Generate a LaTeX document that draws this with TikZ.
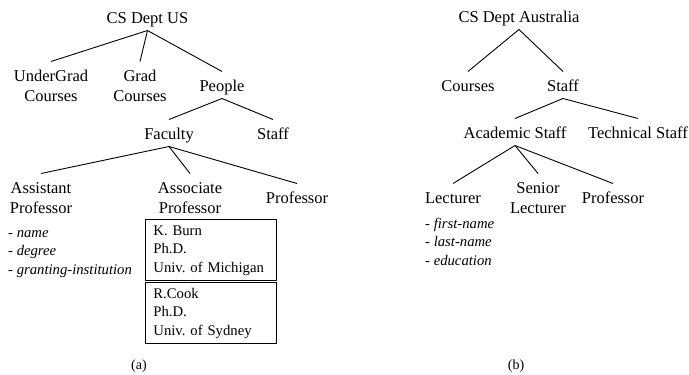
\documentclass[tikz,border=0pt]{standalone}
\usepackage{fontspec}
\setmainfont{Liberation Serif}
\newcommand\bigfnt{\fontsize{16.5}{20}\selectfont}
\newcommand\smallfnt{\fontsize{14.7}{18.5}\selectfont}
\frenchspacing
\begin{document}
\frenchspacing
\begin{tikzpicture}[x=1pt,y=-1pt,
  tn/.style={font=\bigfnt, inner sep=0pt, outer sep=0pt, align=center},
  attr/.style={font=\smallfnt, inner sep=0pt, align=left, anchor=north west},
  recbox/.style={draw, line width=0.8pt, font=\smallfnt, align=left, text width=115pt,
    inner xsep=8pt, inner ysep=2.75pt, anchor=north west},
  edge/.style={line width=0.9pt},
  capt/.style={font=\fontsize{14}{17}\selectfont, inner sep=0pt}]
\useasboundingbox (0,0) rectangle (689,375);

% ---- (a) US ----
\node[tn] (usroot) at (147.5,19.5) {\strut CS Dept US};
\node[tn] (ugc) at (51,87.5) {\strut UnderGrad\\\strut Courses};
\node[tn] (gc) at (140,87.5) {\strut Grad\\\strut Courses};
\node[tn] (people) at (222,87.5) {\strut People};
\node[tn] (faculty) at (169,135.5) {\strut Faculty};
\node[tn] (staffa) at (273,135.5) {\strut Staff};
\node[tn] (asst) at (41,199.5) {\strut Assistant\\\strut Professor};
\node[tn] (assoc) at (190,199.5) {\strut Associate\\\strut Professor};
\node[tn] (profa) at (297,199.5) {\strut Professor};

\node[attr] (attra) at (8,223.9) {\strut- \textit{name}\\\strut- \textit{degree}\\\strut- \textit{granting-institution}};

\node[recbox] (burn) at (145,219) {\strut K. Burn\\\strut Ph.D.\\\strut Univ. of Michigan};
\node[recbox] (cook) at (145,282) {\strut R.Cook\\\strut Ph.D.\\\strut Univ. of Sydney};

\draw[edge] ([yshift=-1pt]usroot.south) -- ([yshift=6pt]ugc.north);
\draw[edge] ([yshift=-1pt]usroot.south) -- ([yshift=6pt]gc.north);
\draw[edge] ([yshift=-1pt]usroot.south) -- ([yshift=6pt]people.north);
\draw[edge] ([yshift=-1pt]people.south) -- ([yshift=6pt]faculty.north);
\draw[edge] ([yshift=-1pt]people.south) -- ([yshift=6pt]staffa.north);
\draw[edge] ([yshift=-1pt]faculty.south) -- ([yshift=6pt]asst.north);
\draw[edge] ([yshift=-1pt]faculty.south) -- ([yshift=6pt]assoc.north);
\draw[edge] ([yshift=-1pt]faculty.south) -- ([yshift=6pt]profa.north);

\node[capt] (capa) at (139,366) {(a)};

% ---- (b) Australia ----
\node[tn] (auroot) at (519,18.5) {\strut CS Dept Australia};
\node[tn] (courses) at (468,87.5) {\strut Courses};
\node[tn] (staffb) at (563,87.5) {\strut Staff};
\node[tn] (academic) at (515,134.5) {\strut Academic Staff};
\node[tn] (technical) at (638,134.5) {\strut Technical Staff};
\node[tn] (lecturer) at (453,199.5) {\strut Lecturer};
\node[tn] (senior) at (538,199.5) {\strut Senior\\\strut Lecturer};
\node[tn] (profb) at (613,199.5) {\strut Professor};

\node[attr] (attrb) at (425,214.9) {\strut- \textit{first-name}\\\strut- \textit{last-name}\\\strut- \textit{education}};

\draw[edge] ([yshift=-1pt]auroot.south) -- ([yshift=6pt]courses.north);
\draw[edge] ([yshift=-1pt]auroot.south) -- ([yshift=6pt]staffb.north);
\draw[edge] ([yshift=-1pt]staffb.south) -- ([yshift=6pt]academic.north);
\draw[edge] ([yshift=-1pt]staffb.south) -- ([yshift=6pt]technical.north);
\draw[edge] ([yshift=-1pt]academic.south) -- ([yshift=6pt]lecturer.north);
\draw[edge] ([yshift=-1pt]academic.south) -- ([yshift=6pt]senior.north);
\draw[edge] ([yshift=-1pt]academic.south) -- ([yshift=6pt]profb.north);

\node[capt] (capb) at (516,366) {(b)};
\end{tikzpicture}
\end{document}
